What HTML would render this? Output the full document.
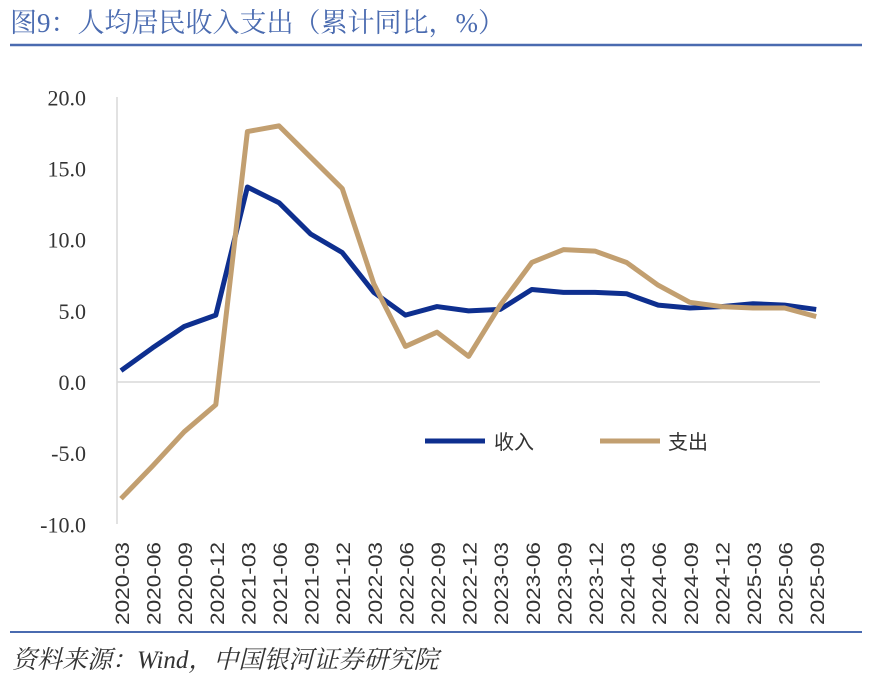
<!DOCTYPE html>
<html><head><meta charset="utf-8"><style>
body{margin:0;background:#fff;width:882px;height:683px;overflow:hidden;font-family:"Liberation Serif","Noto Serif CJK SC",serif;}
</style></head><body>
<svg width="882" height="683" xmlns="http://www.w3.org/2000/svg" style="position:absolute;left:0;top:0">
<text x="10" y="32" font-size="27" fill="#4a6bb0" font-family="Liberation Serif, Noto Serif CJK SC, serif">图9：人均居民收入支出（累计同比，%）</text>
<line x1="10" y1="45" x2="862" y2="45" stroke="#4a6bb0" stroke-width="2.5"/>
<line x1="10" y1="632" x2="862" y2="632" stroke="#4a6bb0" stroke-width="2"/>
<text x="12" y="668" font-size="25" font-style="italic" fill="#333" font-family="Liberation Serif, Noto Serif CJK SC, serif">资料来源：Wind，中国银河证券研究院</text>
<g id="yl" font-size="22" fill="#333" text-anchor="end" font-family="Liberation Serif, serif"></g>
<line x1="117" y1="97" x2="117" y2="524" stroke="#d9d9d9" stroke-width="1.5"/>
<line x1="117" y1="382" x2="820" y2="382" stroke="#d9d9d9" stroke-width="1.5"/>
<g id="xl" font-size="19" fill="#333" font-family="Liberation Sans, sans-serif"></g>
<polyline id="inc" fill="none" stroke="#0e2f8f" stroke-width="5" stroke-linejoin="round"/>
<polyline id="exp" fill="none" stroke="#c29f70" stroke-width="5" stroke-linejoin="round"/>
<line x1="425" y1="441" x2="485" y2="441" stroke="#0e2f8f" stroke-width="5"/>
<text x="494" y="449" font-size="20" fill="#333" font-family="Noto Sans CJK SC, sans-serif">收入</text>
<line x1="600" y1="441" x2="660" y2="441" stroke="#c29f70" stroke-width="5"/>
<text x="668" y="449" font-size="20" fill="#333" font-family="Noto Sans CJK SC, sans-serif">支出</text>
</svg>
<script>
var inc=[0.8,2.4,3.9,4.7,13.7,12.6,10.4,9.1,6.3,4.7,5.3,5.0,5.1,6.5,6.3,6.3,6.2,5.4,5.2,5.3,5.5,5.4,5.1];
var exp=[-8.2,-5.9,-3.5,-1.6,17.6,18.0,15.8,13.6,6.9,2.5,3.5,1.8,5.4,8.4,9.3,9.2,8.4,6.8,5.6,5.3,5.2,5.2,4.6];
var labs=[];for(var y=2020;y<=2025;y++)for(var m of["03","06","09","12"])labs.push(y+"-"+m);labs=labs.slice(0,23);
function X(i){return 121+i*31.6}function Y(v){return 382-v*14.23}
document.getElementById('inc').setAttribute('points',inc.map((v,i)=>X(i)+','+Y(v)).join(' '));
document.getElementById('exp').setAttribute('points',exp.map((v,i)=>X(i)+','+Y(v)).join(' '));
var s='';
labs.forEach((l,i)=>{var x=X(i)+8;s+='<text transform="translate('+x+',625) rotate(-90)" textLength="83" lengthAdjust="spacingAndGlyphs">'+l+'</text>'});
document.getElementById('xl').innerHTML=s;
var ys='';[20,15,10,5,0,-5,-10].forEach(v=>{var t=v.toFixed(1);ys+='<text x="86" y="'+(Y(v)+8)+'">'+t+'</text>'});
document.getElementById('yl').innerHTML=ys;
</script>
</body></html>
